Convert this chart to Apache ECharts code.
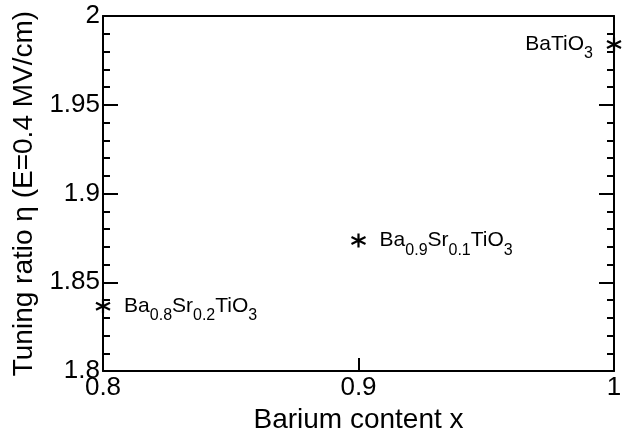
<!DOCTYPE html>
<html>
<head>
<meta charset="utf-8">
<script src="https://cdn.jsdelivr.net/npm/echarts@6/dist/echarts.min.js"></script>
<style>
  html, body { margin: 0; padding: 0; background: #fff; }
  #chart { width: 631px; height: 439px; }
</style>
</head>
<body>
<div id="chart"></div>
<script>
// barium content and measured tuning ratio
var bariumContent = [0.8, 0.9, 1.0];
var tuningRatio = [1.8365, 1.8735, 1.984];
var sampleLabels = [
    '{m|Ba}{s|0.8}{m|Sr}{s|0.2}{m|TiO}{s|3}',
    '{m|Ba}{s|0.9}{m|Sr}{s|0.1}{m|TiO}{s|3}',
    '{m|BaTiO}{s|3}'
];
var labelSide = ['right', 'right', 'left'];

var font = 'Liberation Sans, Arial, sans-serif';
var star = 'path://M0,-6L0,6M-5.2,-3L5.2,3M-5.2,3L5.2,-3';

var points = [];
for (var i = 0; i < bariumContent.length; i++) {
    points.push({
        value: [bariumContent[i], tuningRatio[i]],
        label: {
            position: labelSide[i],
            formatter: sampleLabels[i]
        }
    });
}

var yAxisBase = {
    type: 'value',
    min: 1.8,
    max: 2,
    interval: 0.05,
    splitLine: { show: false },
    axisLine: { show: true, lineStyle: { color: '#000', width: 2 } },
    axisTick: { show: true, inside: true, length: 15, lineStyle: { color: '#000', width: 2 } },
    minorTick: { show: true, splitNumber: 5, length: 7, lineStyle: { color: '#000', width: 2 } }
};

var chart = echarts.init(document.getElementById('chart'));
chart.setOption({
    animation: false,
    grid: { left: 103, right: 17, top: 16, bottom: 61 },
    xAxis: [{
        type: 'value',
        min: 0.8,
        max: 1,
        interval: 0.1,
        name: 'Barium content x',
        nameLocation: 'middle',
        nameGap: 33,
        nameTextStyle: { fontFamily: font, fontSize: 28, color: '#000' },
        splitLine: { show: false },
        axisLine: { lineStyle: { color: '#000', width: 2 } },
        axisTick: { inside: true, length: 13, lineStyle: { color: '#000', width: 2 } },
        axisLabel: {
            fontFamily: font, fontSize: 26, color: '#000', margin: 4,
            formatter: function (v) { return v === 1 ? '1' : v.toFixed(1); }
        }
    }, {
        type: 'value',
        position: 'top',
        min: 0.8,
        max: 1,
        splitLine: { show: false },
        axisLine: { show: true, lineStyle: { color: '#000', width: 2 } },
        axisTick: { show: false },
        axisLabel: { show: false }
    }],
    yAxis: [Object.assign({}, yAxisBase, {
        name: 'Tuning ratio \u03b7 (E=0.4 MV/cm)',
        nameLocation: 'middle',
        nameGap: 54,
        nameTextStyle: { fontFamily: font, fontSize: 28, color: '#000' },
        axisLabel: {
            fontFamily: font, fontSize: 26, color: '#000', margin: 3,
            formatter: function (v) { return v === 2 ? '2' : String(+v.toFixed(2)); }
        }
    }), Object.assign({}, yAxisBase, {
        position: 'right',
        axisLabel: { show: false }
    })],
    series: [{
        type: 'scatter',
        xAxisIndex: 0,
        yAxisIndex: 0,
        symbol: star,
        symbolSize: 14,
        itemStyle: { color: 'rgba(0,0,0,0)', borderColor: '#000', borderWidth: 2.2, opacity: 1 },
        label: {
            show: true,
            distance: 13,
            color: '#000',
            fontFamily: font,
            fontSize: 21,
            rich: {
                m: { fontFamily: font, fontSize: 21, color: '#000' },
                s: { fontFamily: font, fontSize: 16, color: '#000', padding: [19, 0, 0, 0] }
            }
        },
        data: points
    }]
});
window.onresize = chart.resize;
</script>
</body>
</html>
